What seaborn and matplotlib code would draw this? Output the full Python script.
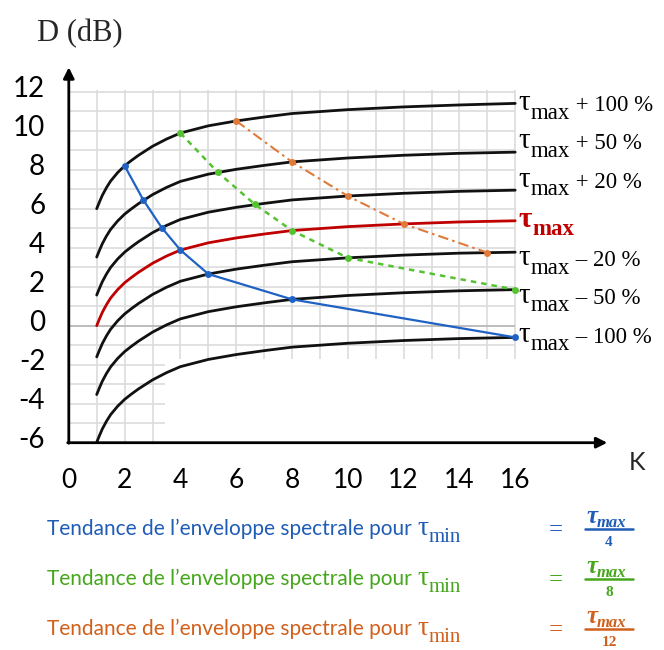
import numpy as np
import pandas as pd
import matplotlib
matplotlib.use("Agg")
import matplotlib.pyplot as plt
from matplotlib.lines import Line2D
from matplotlib.patches import Rectangle
from matplotlib.transforms import ScaledTranslation
import seaborn as sns

# ---- data ----
k_vals = [1, 1.1, 1.2, 1.35, 1.5, 1.75, 2, 2.25, 2.5, 3, 3.5, 4, 5, 6, 7, 8, 10, 12, 14, 16]

d_plus100 = [6.0, 6.35, 6.68, 7.08, 7.42, 7.85, 8.2, 8.48, 8.74, 9.2, 9.57, 9.88, 10.25, 10.5, 10.7, 10.88, 11.08, 11.22, 11.32, 11.4]
d_plus50 = [3.52, 3.87, 4.2, 4.6, 4.94, 5.37, 5.72, 6.0, 6.26, 6.72, 7.09, 7.4, 7.77, 8.02, 8.22, 8.4, 8.6, 8.74, 8.84, 8.9]
d_plus20 = [1.57, 1.92, 2.25, 2.65, 2.99, 3.42, 3.77, 4.05, 4.31, 4.77, 5.14, 5.45, 5.82, 6.07, 6.27, 6.45, 6.65, 6.79, 6.89, 6.95]
d_tmax = [0.0, 0.35, 0.68, 1.08, 1.42, 1.85, 2.2, 2.48, 2.74, 3.2, 3.57, 3.88, 4.25, 4.5, 4.7, 4.88, 5.08, 5.22, 5.32, 5.38]
d_minus20 = [-1.6, -1.25, -0.92, -0.52, -0.18, 0.25, 0.6, 0.88, 1.14, 1.6, 1.97, 2.28, 2.65, 2.9, 3.1, 3.28, 3.48, 3.62, 3.72, 3.77]
d_minus50 = [-3.53, -3.18, -2.85, -2.45, -2.11, -1.68, -1.33, -1.05, -0.79, -0.33, 0.04, 0.35, 0.72, 0.97, 1.17, 1.35, 1.55, 1.69, 1.79, 1.85]
d_minus100 = [-5.98, -5.63, -5.3, -4.9, -4.56, -4.13, -3.78, -3.5, -3.24, -2.78, -2.41, -2.1, -1.73, -1.48, -1.28, -1.1, -0.9, -0.76, -0.66, -0.6]

curve_names = ["+ 100 %", "+ 50 %", "+ 20 %", "", "\u2013 20 %", "\u2013 50 %", "\u2013 100 %"]
curve_vals = [d_plus100, d_plus50, d_plus20, d_tmax, d_minus20, d_minus50, d_minus100]
label_y = [11.06, 9.1, 7.13, 5.08, 3.11, 1.18, -0.82]

# envelope trend points (tau_min = tau_max/4, /8, /12)
blue_k = [2, 2.67, 3.33, 4, 5, 8, 16]
blue_d = [8.2, 6.45, 5.03, 3.88, 2.65, 1.35, -0.6]
green_k = [4, 5.33, 6.67, 8, 10, 16]
green_d = [9.88, 7.88, 6.22, 4.88, 3.48, 1.85]
orange_k = [6, 8, 10, 12, 15]
orange_d = [10.5, 8.4, 6.65, 5.22, 3.75]

y_ticks = [-6, -4, -2, 0, 2, 4, 6, 8, 10, 12]
x_ticks = [0, 2, 4, 6, 8, 10, 12, 14, 16]
divisors = ["4", "8", "12"]

BLUE, GREEN, ORANGE, RED = "#1f62c4", "#55c232", "#e07a3a", "#c00000"
TXT_COLORS = ["#1f5cb5", "#46a61c", "#d0601c"]

sns.set_theme(style="white")
plt.rcParams["font.family"] = ["Lato", "DejaVu Sans"]
plt.rcParams["axes.unicode_minus"] = False

W, H = 664, 650
fig = plt.figure(figsize=(W / 100, H / 100), dpi=100)
ax = fig.add_axes([68.8 / W, (H - 442.7) / H, 20 * 27.9 / W, 19.5 * 19.5 / H])
ax.set_xlim(0, 20)
ax.set_ylim(-6, 13.5)


def px(x, y):
    return x / W, 1 - y / H


# grid drawn by hand so it stops at K=16 / D=12
ax.hlines([d for d in range(-6, 13)], 0, 16, color="#dcdcdc", lw=1.2, zorder=0.5)
ax.hlines([0], 0, 16, color="#b8b8b8", lw=1.2, zorder=0.6)
ax.vlines(range(1, 17), -6, 12.1, color="#dcdcdc", lw=1.2, zorder=0.5)
ax.add_patch(Rectangle((3.45, -5.97), 13.0, 4.27, fc="white", ec="none", zorder=1))

# curves
rows = []
for name, vals in zip(curve_names, curve_vals):
    for k, d in zip(k_vals, vals):
        rows.append({"K": k, "D": d, "curve": name if name else "tmax"})
df = pd.DataFrame(rows)
palette = {(n if n else "tmax"): ("#111111" if n else RED) for n in curve_names}
sns.lineplot(data=df, x="K", y="D", hue="curve", palette=palette, estimator=None,
             sort=False, legend=False, linewidth=2.0, ax=ax, zorder=3)

# trend lines
sns.lineplot(x=blue_k, y=blue_d, color=BLUE, linewidth=1.6, marker="o", markersize=5,
             markeredgewidth=0, ax=ax, zorder=4)
sns.lineplot(x=green_k, y=green_d, color=GREEN, linewidth=1.8, linestyle=(0, (2.2, 2)),
             marker="o", markersize=5, markeredgewidth=0, ax=ax, zorder=4)
sns.lineplot(x=orange_k, y=orange_d, color=ORANGE, linewidth=1.5, linestyle=(0, (5, 2, 1.2, 2)),
             marker="o", markersize=5, markeredgewidth=0, ax=ax, zorder=4)

# axes with arrows
for s in ax.spines.values():
    s.set_visible(False)
ax.annotate("", xy=(0, 13.25), xytext=(0, -6.03),
            arrowprops=dict(arrowstyle="-|>", lw=2, color="black", mutation_scale=16,
                            shrinkA=0, shrinkB=0), annotation_clip=False)
ax.annotate("", xy=(19.3, -6), xytext=(-0.04, -6),
            arrowprops=dict(arrowstyle="-|>", lw=2, color="black", mutation_scale=16,
                            shrinkA=0, shrinkB=0), annotation_clip=False)

ax.set_yticks(y_ticks)
ax.set_yticklabels([str(v) for v in y_ticks])
ax.set_xticks(x_ticks)
ax.set_xticklabels([str(v) for v in x_ticks])
ax.tick_params(axis="y", length=0, pad=17, labelsize=20, labelcolor="black")
ax.tick_params(axis="x", length=0, pad=18, labelsize=19, labelcolor="black")
for lab in ax.get_yticklabels():
    lab.set_transform(lab.get_transform() + ScaledTranslation(0, 3.4 / 72, fig.dpi_scale_trans))
ax.set_xlabel("")
ax.set_ylabel("")

fig.text(*px(37, 34), "D (dB)", family="Liberation Serif", fontsize=22, ha="left", va="center")
fig.text(*px(637, 463), "K", fontsize=18, ha="center", va="center")


def chain(first, pieces):
    # place text pieces one after another; pieces = (text, dy_pt, props)
    prev = first
    for txt, dy, props in pieces:
        prev = ax.annotate(txt, xy=(1, 0), xycoords=prev, xytext=(0, dy),
                           textcoords="offset points", ha="left", va="bottom",
                           annotation_clip=False, **props)
    return prev


# right-hand labels
for name, ly in zip(curve_names, label_y):
    col = RED if name == "" else "black"
    t = ax.text(16.12, ly, "\u03c4", family="Liberation Serif", fontsize=21, color=col,
                ha="left", va="baseline", clip_on=False,
                fontweight="bold" if name == "" else "normal")
    pieces = [("max", -5.5, dict(family="Liberation Serif", fontsize=16.5, color=col,
                                 fontweight="bold" if name == "" else "normal"))]
    if name:
        pieces.append((" " + name, 5.5, dict(family="Liberation Serif", fontsize=16.5, color=col)))
    chain(t, pieces)

# bottom legend-like texts
line_y = [529, 579, 629]
for div, col, ly in zip(divisors, TXT_COLORS, line_y):
    t = fig.text(*px(47, ly), "Tendance de l\u2019enveloppe spectrale pour ", fontsize=15,
                 color=col, ha="left", va="center")
    chain(t, [("\u03c4", -1.5, dict(family="Liberation Serif", fontsize=20, color=col)),
              ("min", -4, dict(family="Liberation Serif", fontsize=15, color=col))])
    fig.text(*px(556, ly + 1), "=", family="Liberation Serif", fontsize=18, color=col,
             ha="center", va="center")
    num = fig.text(*px(586, ly - 6), "\u03c4", family="Liberation Serif", fontsize=18,
                   style="italic", fontweight="bold", color=col, ha="left", va="baseline")
    chain(num, [("max", -2.5, dict(family="Liberation Serif", fontsize=12, style="italic",
                                   fontweight="bold", color=col))])
    x0, yb = px(585, ly)
    x1, _ = px(633, ly)
    fig.add_artist(Line2D([x0, x1], [yb, yb], color=col, lw=1.8))
    fig.text(*px(609, ly + 14), div, family="Liberation Serif", fontsize=11,
             fontweight="bold", color=col, ha="center", va="center")

fig.savefig("out.png", dpi=100)
